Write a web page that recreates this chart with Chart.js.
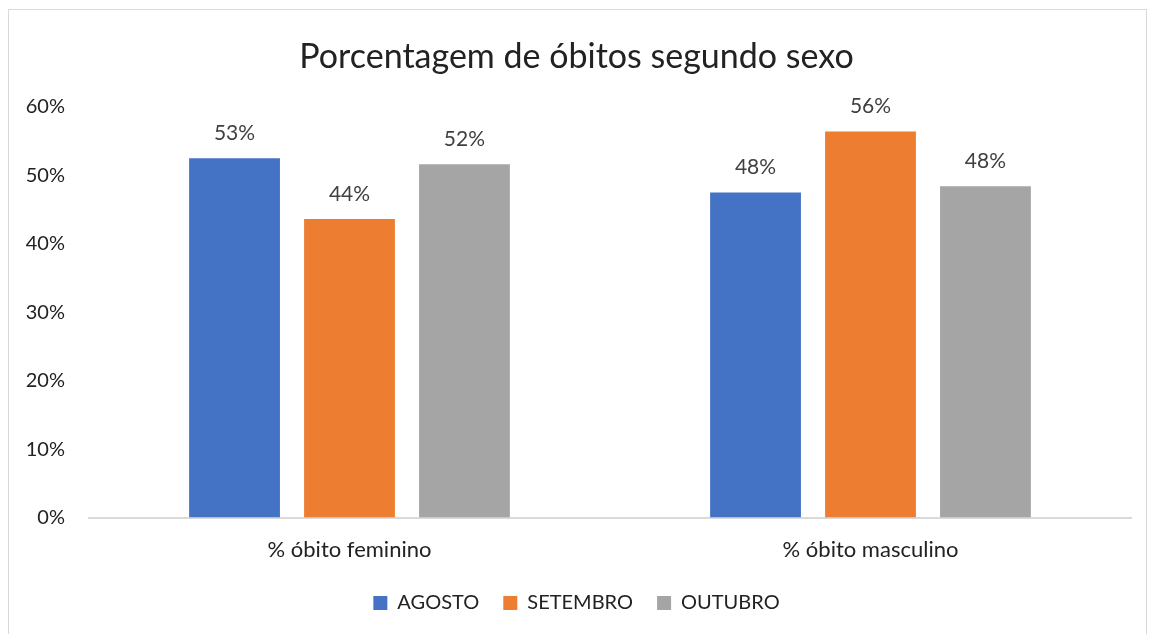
<!DOCTYPE html>
<html>
<head>
<meta charset="utf-8">
<script src="https://cdn.jsdelivr.net/npm/chart.js@4"></script>
<style>
  body { margin: 0; background: #fff; }
  #wrap { position: relative; width: 1155px; height: 634px; }
  #frame { position: absolute; left: 8px; top: 9px; width: 1139px; height: 640px; border: 1px solid #d9d9d9; box-sizing: border-box; pointer-events: none; }
</style>
</head>
<body>
<div id="wrap">
  <canvas id="grafico" width="1155" height="634"></canvas>
  <div id="frame"></div>
</div>
<script>
// DADOS //
const categorias = ['% óbito feminino', '% óbito masculino']
const meses = ['AGOSTO', 'SETEMBRO', 'OUTUBRO']
const agosto = [52.5, 47.5]
const setembro = [43.6, 56.4]
const outubro = [51.6, 48.4]
const cores = ['#4472C4', '#ED7D31', '#A5A5A5']
const ticksY = [0, 10, 20, 30, 40, 50, 60]

const fonte = 'Lato, "Noto Sans", sans-serif'

// PLUGIN - RÓTULOS DOS VALORES //
const rotulosValores = {
    id: 'rotulosValores',
    afterDatasetsDraw(chart) {
        const ctx = chart.ctx
        ctx.save()
        ctx.font = '21px ' + fonte
        ctx.fillStyle = '#404040'
        ctx.textAlign = 'center'
        ctx.textBaseline = 'middle'
        chart.data.datasets.forEach((ds, i) => {
            chart.getDatasetMeta(i).data.forEach((bar, j) => {
                ctx.fillText(Math.round(ds.data[j]) + '%', bar.x, bar.y - 25)
            })
        })
        ctx.restore()
    }
}

const series = [agosto, setembro, outubro]

new Chart(document.getElementById('grafico'), {
    type: 'bar',
    data: {
        labels: categorias,
        datasets: series.map((valores, i) => ({
            label: meses[i],
            data: valores,
            backgroundColor: cores[i],
            categoryPercentage: 0.662,
            barPercentage: 0.79
        }))
    },
    options: {
        responsive: false,
        animation: false,
        layout: { padding: { top: 35, left: 22, right: 24, bottom: 11 } },
        scales: {
            x: {
                grid: { display: false },
                border: { display: true, color: '#d9d9d9', width: 2 },
                ticks: { color: '#222', font: { family: fonte, size: 22 }, padding: 11 }
            },
            y: {
                min: 0,
                max: 60,
                afterBuildTicks: axis => { axis.ticks = ticksY.map(v => ({ value: v })) },
                afterFit: axis => { axis.width = 67 },
                grid: { display: false, drawTicks: false },
                border: { display: false },
                ticks: { color: '#222', font: { family: fonte, size: 20 }, padding: 24, callback: v => v + '%' }
            }
        },
        plugins: {
            title: {
                display: true,
                text: 'Porcentagem de óbitos segundo sexo',
                color: '#222',
                font: { family: fonte, size: 34, weight: 'normal' },
                padding: { top: 2, bottom: 29 }
            },
            legend: {
                position: 'bottom',
                labels: {
                    color: '#222',
                    font: { family: fonte, size: 20 },
                    boxWidth: 14,
                    boxHeight: 14,
                    padding: 19,
                    generateLabels: chart => {
                        const itens = Chart.defaults.plugins.legend.labels.generateLabels(chart)
                        itens.forEach((item, i) => {
                            if (i < itens.length - 1) item.text = item.text + ' '
                        })
                        return itens
                    }
                }
            },
            tooltip: { enabled: false }
        }
    },
    plugins: [rotulosValores]
})
</script>
</body>
</html>
